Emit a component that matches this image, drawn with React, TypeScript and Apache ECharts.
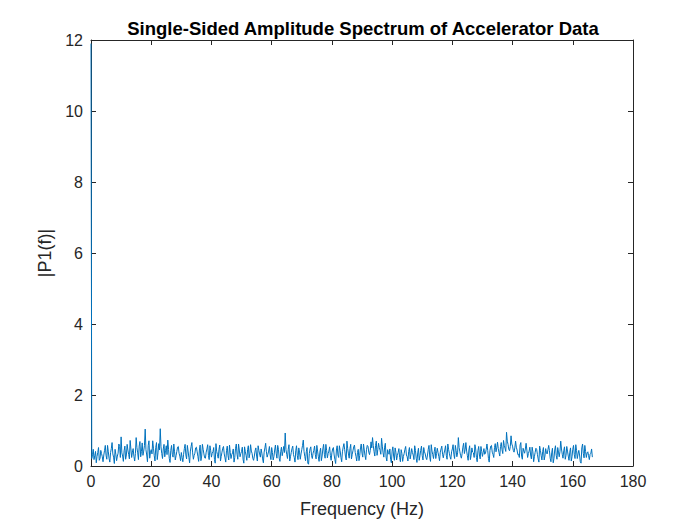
import React, { useEffect, useRef } from "react";
import * as echarts from "echarts";

const TITLE = "Single-Sided Amplitude Spectrum of Accelerator Data";
const X_LABEL = "Frequency (Hz)";
const Y_LABEL = "|P1(f)|";
const FREQ_STEP = 0.25; // Hz between spectrum bins
const AMPLITUDES: number[] = [
  11.9, 0.21, 0.32, 0.47, 0.18, 0.29, 0.41, 0.09, 0.27, 0.38, 0.52, 0.16, 0.22, 0.44, 0.35, 0.26, 0.12, 0.31, 0.44, 0.58,
  0.30, 0.19, 0.58, 0.40, 0.21, 0.11, 0.38, 0.49, 0.66, 0.34, 0.25, 0.07, 0.47, 0.33, 0.15, 0.28, 0.36, 0.62, 0.55, 0.24,
  0.82, 0.37, 0.28, 0.13, 0.43, 0.56, 0.19, 0.31, 0.61, 0.45, 0.33, 0.20, 0.72, 0.48, 0.24, 0.39, 0.49, 0.27, 0.14, 0.35,
  0.80, 0.52, 0.37, 0.18, 0.56, 0.69, 0.26, 0.41, 0.65, 0.30, 0.42, 0.57, 1.04, 0.46, 0.31, 0.12, 0.58, 0.71, 0.22, 0.39,
  0.46, 0.34, 0.71, 0.50, 0.29, 0.14, 0.52, 0.66, 0.18, 0.37, 0.63, 0.45, 1.05, 0.54, 0.35, 0.21, 0.48, 0.61, 0.26, 0.43,
  0.57, 0.32, 0.73, 0.47, 0.21, 0.10, 0.44, 0.58, 0.33, 0.25, 0.62, 0.40, 0.17, 0.29, 0.41, 0.53, 0.55, 0.36, 0.28, 0.15,
  0.38, 0.24, 0.12, 0.33, 0.49, 0.61, 0.31, 0.20, 0.58, 0.42, 0.24, 0.09, 0.42, 0.55, 0.66, 0.37, 0.19, 0.30, 0.36, 0.51,
  0.53, 0.40, 0.27, 0.13, 0.45, 0.59, 0.15, 0.28, 0.61, 0.47, 0.34, 0.23, 0.22, 0.39, 0.48, 0.60, 0.30, 0.18, 0.57, 0.43,
  0.25, 0.36, 0.40, 0.52, 0.18, 0.08, 0.63, 0.41, 0.32, 0.22, 0.47, 0.59, 0.14, 0.27, 0.39, 0.50, 0.55, 0.34, 0.23, 0.11,
  0.44, 0.56, 0.29, 0.17, 0.59, 0.38, 0.21, 0.32, 0.37, 0.48, 0.11, 0.24, 0.50, 0.62, 0.33, 0.19, 0.62, 0.45, 0.26, 0.35,
  0.41, 0.53, 0.19, 0.08, 0.54, 0.40, 0.30, 0.16, 0.46, 0.57, 0.23, 0.34, 0.60, 0.42, 0.35, 0.21, 0.16, 0.28, 0.43, 0.51,
  0.28, 0.14, 0.57, 0.44, 0.34, 0.25, 0.48, 0.36, 0.20, 0.09, 0.39, 0.51, 0.64, 0.40, 0.25, 0.33, 0.42, 0.55, 0.31, 0.18,
  0.52, 0.38, 0.17, 0.27, 0.45, 0.59, 0.36, 0.22, 0.58, 0.47, 0.22, 0.13, 0.40, 0.53, 0.29, 0.41, 0.55, 0.38, 0.93, 0.46,
  0.33, 0.21, 0.47, 0.60, 0.14, 0.26, 0.38, 0.49, 0.56, 0.32, 0.24, 0.11, 0.43, 0.57, 0.30, 0.18, 0.51, 0.39, 0.19, 0.34,
  0.46, 0.58, 0.73, 0.41, 0.27, 0.15, 0.40, 0.52, 0.08, 0.05, 0.35, 0.48, 0.54, 0.29, 0.21, 0.36, 0.44, 0.56, 0.32, 0.20,
  0.58, 0.42, 0.26, 0.13, 0.39, 0.50, 0.15, 0.28, 0.48, 0.61, 0.33, 0.22, 0.61, 0.44, 0.23, 0.35, 0.42, 0.54, 0.29, 0.16,
  0.37, 0.48, 0.52, 0.31, 0.18, 0.07, 0.45, 0.57, 0.31, 0.24, 0.57, 0.43, 0.24, 0.12, 0.40, 0.53, 0.63, 0.46, 0.28, 0.17,
  0.70, 0.49, 0.34, 0.22, 0.49, 0.61, 0.20, 0.33, 0.43, 0.54, 0.59, 0.38, 0.27, 0.14, 0.38, 0.47, 0.15, 0.30, 0.51, 0.62,
  0.36, 0.25, 0.62, 0.45, 0.29, 0.18, 0.47, 0.58, 0.55, 0.39, 0.32, 0.44, 0.68, 0.51, 0.80, 0.57, 0.41, 0.28, 0.58, 0.70,
  0.30, 0.46, 0.64, 0.52, 0.44, 0.33, 0.78, 0.56, 0.37, 0.25, 0.53, 0.64, 0.25, 0.14, 0.46, 0.38, 0.33, 0.48, 0.19, 0.09,
  0.42, 0.54, 0.28, 0.16, 0.51, 0.39, 0.17, 0.30, 0.38, 0.49, 0.24, 0.12, 0.46, 0.35, 0.13, 0.27, 0.35, 0.47, 0.55, 0.31,
  0.26, 0.14, 0.41, 0.52, 0.20, 0.33, 0.49, 0.38, 0.31, 0.18, 0.57, 0.44, 0.22, 0.10, 0.37, 0.50, 0.16, 0.29, 0.44, 0.56,
  0.29, 0.17, 0.52, 0.40, 0.34, 0.23, 0.18, 0.31, 0.47, 0.58, 0.25, 0.13, 0.60, 0.42, 0.32, 0.21, 0.41, 0.53, 0.21, 0.35,
  0.50, 0.38, 0.27, 0.15, 0.39, 0.48, 0.56, 0.33, 0.23, 0.36, 0.45, 0.57, 0.30, 0.19, 0.62, 0.47, 0.36, 0.26, 0.19, 0.40,
  0.48, 0.60, 0.33, 0.21, 0.58, 0.44, 0.26, 0.37, 0.80, 0.52, 0.40, 0.29, 0.22, 0.35, 0.53, 0.64, 0.35, 0.46, 0.66, 0.42,
  0.29, 0.16, 0.45, 0.57, 0.18, 0.30, 0.51, 0.39, 0.37, 0.24, 0.60, 0.48, 0.24, 0.12, 0.43, 0.55, 0.31, 0.20, 0.55, 0.41,
  0.27, 0.38, 0.49, 0.33, 0.36, 0.47, 0.62, 0.44, 0.21, 0.11, 0.44, 0.56, 0.58, 0.39, 0.33, 0.24, 0.52, 0.63, 0.40, 0.51,
  0.67, 0.49, 0.38, 0.28, 0.55, 0.66, 0.46, 0.35, 0.72, 0.58, 0.50, 0.41, 0.95, 0.70, 0.61, 0.47, 0.43, 0.55, 0.85, 0.62,
  0.56, 0.44, 0.39, 0.51, 0.70, 0.53, 0.45, 0.32, 0.33, 0.24, 0.59, 0.66, 0.28, 0.19, 0.50, 0.42, 0.36, 0.48, 0.64, 0.45,
  0.24, 0.35, 0.42, 0.53, 0.31, 0.20, 0.53, 0.40, 0.12, 0.26, 0.38, 0.50, 0.47, 0.33, 0.20, 0.11, 0.56, 0.44, 0.29, 0.17,
  0.41, 0.52, 0.17, 0.28, 0.49, 0.37, 0.34, 0.46, 0.58, 0.43, 0.22, 0.12, 0.37, 0.50, 0.09, 0.21, 0.45, 0.57, 0.30, 0.19,
  0.52, 0.39, 0.26, 0.41, 0.70, 0.48, 0.33, 0.22, 0.43, 0.54, 0.19, 0.30, 0.55, 0.42, 0.28, 0.16, 0.39, 0.51, 0.14, 0.26,
  0.47, 0.58, 0.32, 0.21, 0.60, 0.44, 0.21, 0.34, 0.44, 0.31, 0.12, 0.08, 0.51, 0.62, 0.35, 0.23, 0.58, 0.41, 0.24, 0.37,
  0.40, 0.29, 0.18, 0.33, 0.36, 0.48, 0.25,
];
const X_MIN = 0, X_MAX = 180, X_STEP = 20;
const Y_MIN = 0, Y_MAX = 12, Y_STEP = 2;

export default function App() {
  const ref = useRef<HTMLDivElement>(null);
  useEffect(() => {
    if (!ref.current) return;
    const chart = echarts.init(ref.current, undefined, { renderer: "svg" });
    const data = AMPLITUDES.map((v, i) => [i * FREQ_STEP, v]);
    const axisColor = "#262626";
    const font = "Liberation Sans, Arial, sans-serif";
    const baseAxis = {
      axisLine: { show: true, onZero: false, lineStyle: { color: axisColor, width: 1 } },
      axisTick: { show: true, inside: true, length: 5, lineStyle: { color: axisColor } },
      splitLine: { show: false },
    };
    chart.setOption({
      animation: false,
      backgroundColor: "#ffffff",
      title: {
        text: TITLE,
        left: 358,
        textAlign: "center",
        top: 14,
        textStyle: { fontFamily: font, fontSize: 18.5, fontWeight: "bold", color: "#000" },
      },
      grid: { left: 91, right: 67, top: 40, bottom: 59, containLabel: false },
      xAxis: [
        {
          ...baseAxis,
          type: "value",
          min: X_MIN, max: X_MAX, interval: X_STEP,
          position: "bottom",
          name: X_LABEL,
          nameLocation: "middle",
          nameGap: 34,
          nameTextStyle: { fontFamily: font, fontSize: 18, color: axisColor },
          axisLabel: { fontFamily: font, fontSize: 16, color: axisColor, margin: 7 },
        },
        {
          ...baseAxis,
          type: "value",
          min: X_MIN, max: X_MAX, interval: X_STEP,
          position: "top",
          axisLabel: { show: false },
        },
      ],
      yAxis: [
        {
          ...baseAxis,
          type: "value",
          min: Y_MIN, max: Y_MAX, interval: Y_STEP,
          position: "left",
          name: Y_LABEL,
          nameLocation: "middle",
          nameGap: 36,
          nameRotate: 90,
          nameTextStyle: { fontFamily: font, fontSize: 18, color: axisColor },
          axisLabel: { fontFamily: font, fontSize: 16, color: axisColor, margin: 8 },
        },
        {
          ...baseAxis,
          type: "value",
          min: Y_MIN, max: Y_MAX, interval: Y_STEP,
          position: "right",
          axisLabel: { show: false },
        },
      ],
      series: [
        {
          type: "line",
          data,
          showSymbol: false,
          symbol: "none",
          lineStyle: { color: "#0072BD", width: 1 },
          itemStyle: { color: "#0072BD" },
          clip: true,
        },
      ],
    });
    return () => chart.dispose();
  }, []);
  return <div ref={ref} style={{ width: 700, height: 525, position: "absolute", left: 0, top: 0 }} />;
}
